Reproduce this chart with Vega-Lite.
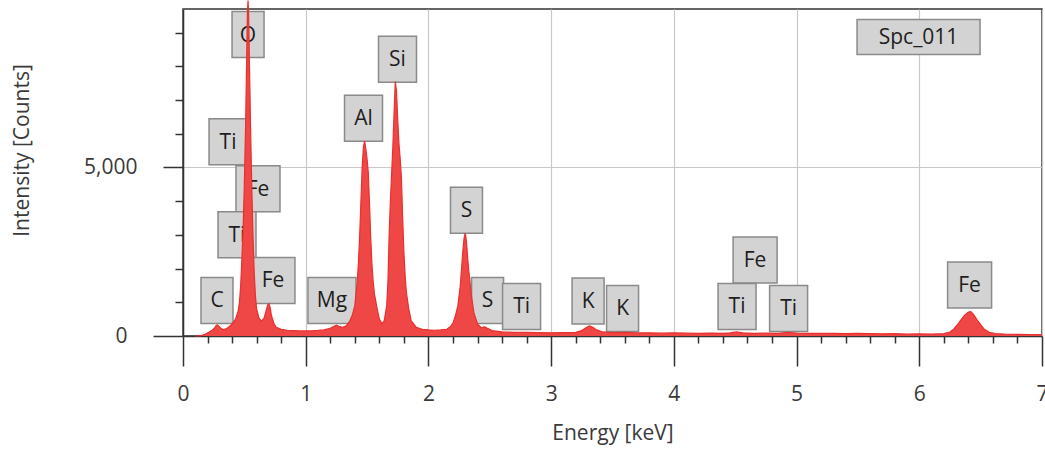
{
  "$schema": "https://vega.github.io/schema/vega-lite/v6.json",
  "width": 859,
  "height": 327,
  "autosize": {"type": "none"},
  "padding": {"left": 183, "top": 9, "right": 3, "bottom": 115},
  "background": "white",
  "config": {
    "view": {"stroke": "#333333", "strokeWidth": 1.5},
    "font": "Open Sans"
  },
  "datasets": {
    "spec": [
      {"e": 0.10, "c": 0}, {"e": 0.15, "c": 10}, {"e": 0.18, "c": 50}, {"e": 0.21, "c": 110},
      {"e": 0.24, "c": 180}, {"e": 0.26, "c": 250}, {"e": 0.27, "c": 310}, {"e": 0.28, "c": 330},
      {"e": 0.29, "c": 300}, {"e": 0.31, "c": 220}, {"e": 0.33, "c": 190}, {"e": 0.35, "c": 210},
      {"e": 0.37, "c": 260}, {"e": 0.39, "c": 320}, {"e": 0.41, "c": 400}, {"e": 0.43, "c": 520},
      {"e": 0.45, "c": 750}, {"e": 0.46, "c": 1000}, {"e": 0.47, "c": 1500}, {"e": 0.48, "c": 2300},
      {"e": 0.49, "c": 3200}, {"e": 0.50, "c": 4500}, {"e": 0.51, "c": 6200}, {"e": 0.52, "c": 8500},
      {"e": 0.525, "c": 9600}, {"e": 0.53, "c": 9950}, {"e": 0.535, "c": 9500}, {"e": 0.54, "c": 8400},
      {"e": 0.55, "c": 6300}, {"e": 0.56, "c": 4500}, {"e": 0.57, "c": 3000}, {"e": 0.58, "c": 1900},
      {"e": 0.59, "c": 1200}, {"e": 0.60, "c": 800}, {"e": 0.62, "c": 520}, {"e": 0.64, "c": 450},
      {"e": 0.66, "c": 520}, {"e": 0.68, "c": 780}, {"e": 0.69, "c": 920}, {"e": 0.70, "c": 960},
      {"e": 0.71, "c": 850}, {"e": 0.72, "c": 620}, {"e": 0.74, "c": 380}, {"e": 0.76, "c": 260},
      {"e": 0.80, "c": 200}, {"e": 0.85, "c": 170}, {"e": 0.90, "c": 160}, {"e": 0.95, "c": 150},
      {"e": 1.00, "c": 150}, {"e": 1.05, "c": 155}, {"e": 1.10, "c": 165}, {"e": 1.15, "c": 185},
      {"e": 1.20, "c": 230}, {"e": 1.23, "c": 290}, {"e": 1.25, "c": 320}, {"e": 1.27, "c": 290},
      {"e": 1.30, "c": 260}, {"e": 1.33, "c": 300}, {"e": 1.36, "c": 450}, {"e": 1.38, "c": 620},
      {"e": 1.40, "c": 900}, {"e": 1.42, "c": 1600}, {"e": 1.43, "c": 2200}, {"e": 1.44, "c": 3000},
      {"e": 1.45, "c": 4000}, {"e": 1.46, "c": 5000}, {"e": 1.47, "c": 5600}, {"e": 1.48, "c": 5780},
      {"e": 1.49, "c": 5550}, {"e": 1.50, "c": 5250}, {"e": 1.51, "c": 4850}, {"e": 1.52, "c": 3900},
      {"e": 1.53, "c": 2900}, {"e": 1.54, "c": 2100}, {"e": 1.55, "c": 1600}, {"e": 1.56, "c": 1250},
      {"e": 1.58, "c": 850}, {"e": 1.60, "c": 500}, {"e": 1.62, "c": 360}, {"e": 1.64, "c": 450},
      {"e": 1.66, "c": 900}, {"e": 1.67, "c": 1600}, {"e": 1.68, "c": 3000}, {"e": 1.69, "c": 4000},
      {"e": 1.70, "c": 4800}, {"e": 1.71, "c": 5600}, {"e": 1.72, "c": 6600}, {"e": 1.73, "c": 7550},
      {"e": 1.74, "c": 7250}, {"e": 1.75, "c": 6400}, {"e": 1.76, "c": 5700}, {"e": 1.77, "c": 5250},
      {"e": 1.78, "c": 4700}, {"e": 1.79, "c": 3500}, {"e": 1.80, "c": 2500}, {"e": 1.81, "c": 1800},
      {"e": 1.82, "c": 1300}, {"e": 1.84, "c": 800}, {"e": 1.86, "c": 450}, {"e": 1.90, "c": 260},
      {"e": 1.95, "c": 200}, {"e": 2.00, "c": 180}, {"e": 2.05, "c": 170}, {"e": 2.10, "c": 180},
      {"e": 2.15, "c": 200}, {"e": 2.18, "c": 280}, {"e": 2.20, "c": 380}, {"e": 2.22, "c": 600},
      {"e": 2.24, "c": 900}, {"e": 2.26, "c": 1500}, {"e": 2.27, "c": 2000}, {"e": 2.28, "c": 2500},
      {"e": 2.29, "c": 2900}, {"e": 2.30, "c": 3050}, {"e": 2.31, "c": 2800}, {"e": 2.32, "c": 2300},
      {"e": 2.33, "c": 1900}, {"e": 2.34, "c": 1550}, {"e": 2.35, "c": 1200}, {"e": 2.37, "c": 700},
      {"e": 2.40, "c": 360}, {"e": 2.43, "c": 250}, {"e": 2.46, "c": 270}, {"e": 2.48, "c": 230},
      {"e": 2.52, "c": 160}, {"e": 2.60, "c": 120}, {"e": 2.70, "c": 110}, {"e": 2.80, "c": 105},
      {"e": 2.90, "c": 100}, {"e": 3.00, "c": 95}, {"e": 3.10, "c": 100}, {"e": 3.20, "c": 110},
      {"e": 3.25, "c": 160}, {"e": 3.28, "c": 240}, {"e": 3.31, "c": 300}, {"e": 3.34, "c": 260},
      {"e": 3.37, "c": 180}, {"e": 3.42, "c": 120}, {"e": 3.50, "c": 100}, {"e": 3.60, "c": 105},
      {"e": 3.70, "c": 90}, {"e": 3.80, "c": 95}, {"e": 3.90, "c": 85}, {"e": 4.00, "c": 90},
      {"e": 4.10, "c": 85}, {"e": 4.20, "c": 80}, {"e": 4.30, "c": 85}, {"e": 4.40, "c": 80},
      {"e": 4.46, "c": 95}, {"e": 4.51, "c": 120}, {"e": 4.56, "c": 95}, {"e": 4.65, "c": 80},
      {"e": 4.75, "c": 85}, {"e": 4.85, "c": 80}, {"e": 4.93, "c": 105}, {"e": 5.00, "c": 85},
      {"e": 5.10, "c": 80}, {"e": 5.20, "c": 75}, {"e": 5.30, "c": 80}, {"e": 5.40, "c": 70},
      {"e": 5.50, "c": 75}, {"e": 5.60, "c": 70}, {"e": 5.70, "c": 65}, {"e": 5.80, "c": 70},
      {"e": 5.90, "c": 60}, {"e": 6.00, "c": 65}, {"e": 6.10, "c": 60}, {"e": 6.20, "c": 70},
      {"e": 6.25, "c": 120}, {"e": 6.28, "c": 200}, {"e": 6.31, "c": 330}, {"e": 6.34, "c": 480},
      {"e": 6.37, "c": 620}, {"e": 6.40, "c": 710}, {"e": 6.42, "c": 720}, {"e": 6.44, "c": 650},
      {"e": 6.47, "c": 490}, {"e": 6.50, "c": 340}, {"e": 6.53, "c": 200}, {"e": 6.57, "c": 110},
      {"e": 6.62, "c": 70}, {"e": 6.70, "c": 55}, {"e": 6.80, "c": 50}, {"e": 6.90, "c": 45},
      {"e": 7.00, "c": 45}
    ],
    "labels": [
      {"el": "O", "e": 0.530, "c": 8940},
      {"el": "Si", "e": 1.748, "c": 8210},
      {"el": "Al", "e": 1.471, "c": 6460},
      {"el": "Ti", "e": 0.367, "c": 5760},
      {"el": "Fe", "e": 0.611, "c": 4370},
      {"el": "Ti", "e": 0.440, "c": 3000},
      {"el": "Fe", "e": 0.733, "c": 1650},
      {"el": "C", "e": 0.277, "c": 1055},
      {"el": "Mg", "e": 1.214, "c": 1055},
      {"el": "S", "e": 2.310, "c": 3730},
      {"el": "S", "e": 2.482, "c": 1055},
      {"el": "Ti", "e": 2.759, "c": 876},
      {"el": "K", "e": 3.301, "c": 1040},
      {"el": "K", "e": 3.582, "c": 817},
      {"el": "Fe", "e": 4.662, "c": 2258},
      {"el": "Ti", "e": 4.515, "c": 876},
      {"el": "Ti", "e": 4.935, "c": 817},
      {"el": "Fe", "e": 6.410, "c": 1515},
      {"el": "Spc_011", "e": 5.994, "c": 8870}
    ]
  },
  "encoding": {
    "x": {
      "field": "e",
      "type": "quantitative",
      "scale": {"domain": [0, 7], "nice": false, "zero": false},
      "axis": {
        "title": "Energy [keV]",
        "values": [0, 0.2, 0.4, 0.6, 0.8, 1, 1.2, 1.4, 1.6, 1.8, 2, 2.2, 2.4, 2.6, 2.8, 3, 3.2, 3.4, 3.6, 3.8, 4, 4.2, 4.4, 4.6, 4.8, 5, 5.2, 5.4, 5.6, 5.8, 6, 6.2, 6.4, 6.6, 6.8, 7],
        "format": ".0f",
        "labelExpr": "datum.value % 1 === 0 ? datum.label : ''",
        "labelFlush": false,
        "labelOverlap": false,
        "labelFontSize": 21,
        "labelColor": "#3a3a3a",
        "labelPadding": 17,
        "tickSize": {"condition": {"test": "datum.value % 1 === 0", "value": 30}, "value": 7},
        "tickColor": "#333333",
        "tickWidth": 1.5,
        "domainColor": "#333333",
        "domainWidth": 1.5,
        "grid": true,
        "gridColor": "#c8c8c8",
        "gridWidth": 1.2,
        "gridOpacity": {"condition": {"test": "datum.value % 1 === 0", "value": 1}, "value": 0},
        "titleFontSize": 21,
        "titleFontWeight": "normal",
        "titleColor": "#3a3a3a",
        "titlePadding": 18
      }
    },
    "y": {
      "field": "c",
      "type": "quantitative",
      "scale": {"domain": [0, 9700], "nice": false},
      "axis": {
        "title": "Intensity [Counts]",
        "values": [0, 1000, 2000, 3000, 4000, 5000, 6000, 7000, 8000, 9000],
        "labelExpr": "datum.value == 0 || datum.value == 5000 ? datum.label : ''",
        "labelOverlap": false,
        "labelFontSize": 21,
        "labelColor": "#3a3a3a",
        "labelPadding": 26,
        "tickSize": {"condition": [{"test": "datum.value == 0", "value": 30}, {"test": "datum.value == 5000", "value": 20}], "value": 8},
        "tickColor": "#333333",
        "tickWidth": 1.5,
        "domainColor": "#333333",
        "domainWidth": 1.5,
        "grid": true,
        "gridColor": "#c8c8c8",
        "gridWidth": 1.2,
        "gridOpacity": {"condition": {"test": "datum.value == 5000", "value": 1}, "value": 0},
        "titleFontSize": 21,
        "titleFontWeight": "normal",
        "titleColor": "#3a3a3a",
        "titleX": -161,
        "titleY": 141,
        "titleBaseline": "middle"
      }
    }
  },
  "layer": [
    {
      "data": {"name": "labels"},
      "mark": {
        "type": "rect",
        "fill": "#d3d3d3",
        "stroke": "#8a8a8a",
        "strokeWidth": 1.5,
        "width": {"expr": "datum.el == 'Spc_011' ? 123 : datum.el == 'Mg' ? 48 : datum.el == 'Fe' ? 44 : length(datum.el) == 1 ? 32 : 38"},
        "height": {"expr": "datum.el == 'Spc_011' ? 35 : 46"}
      }
    },
    {
      "data": {"name": "labels"},
      "mark": {"type": "text", "fontSize": 21, "color": "#1e1e1e", "align": "center", "baseline": "middle", "dy": 1},
      "encoding": {"text": {"field": "el"}}
    },
    {
      "data": {"name": "spec"},
      "mark": {"type": "area", "fill": "#ef4646", "opacity": 1, "fillOpacity": 1, "line": {"stroke": "#e8302e", "strokeWidth": 1.2}, "clip": false}
    }
  ]
}
